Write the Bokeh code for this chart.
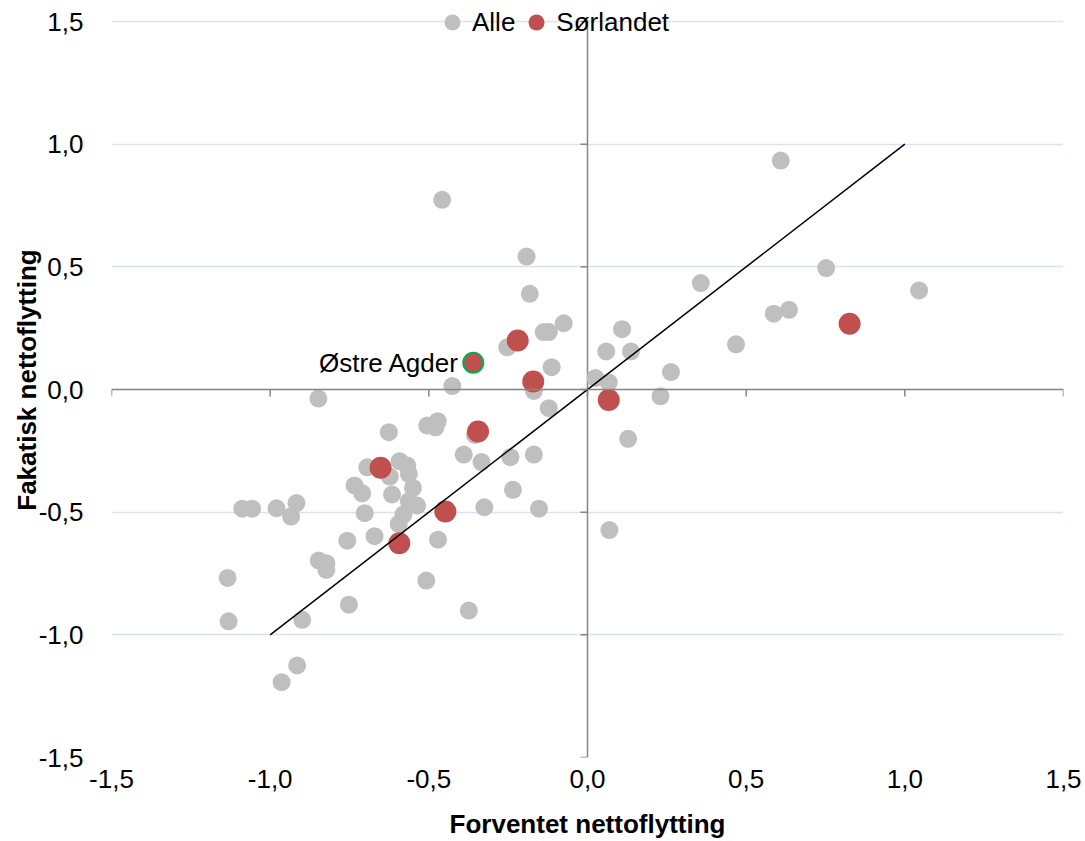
import math
from bokeh.plotting import figure
from bokeh.models import (Range1d, FixedTicker, Span, Legend, LegendItem)
from bokeh.core.properties import value
from bokeh.embed import file_html
from bokeh.resources import INLINE

# ---- data -------------------------------------------------------------
alle_x = [-0.458, -0.192, -0.182, -0.138, -0.122, -0.075, -0.253, -0.113, -0.426, -0.169,
          -0.122, -0.848, -0.626, -0.505, -0.472, -0.479, -0.355, -0.390, -0.334, -0.243,
          -0.169, -0.235, -0.325, -0.153, -0.694, -0.592, -0.568, -0.563, -0.623, -0.734,
          -0.710, -0.616, -0.550, -0.537, -0.563, -0.580, -0.595, -0.702, -0.757, -0.671,
          -0.471, -0.508, -0.374, -1.088, -1.057, -0.980, -0.917, -0.934, -0.847, -0.823,
          -0.823, -1.134, -1.131, -0.899, -0.752, -0.915, -0.964,
          0.609, 0.357, 0.752, 1.045, 0.587, 0.635, 0.468, 0.109, 0.059, 0.137, 0.263,
          0.025, 0.067, 0.230, 0.128, 0.069]
alle_y = [0.773, 0.542, 0.390, 0.234, 0.234, 0.270, 0.172, 0.091, 0.014, -0.006,
          -0.076, -0.037, -0.174, -0.147, -0.129, -0.154, -0.185, -0.265, -0.296, -0.276,
          -0.265, -0.409, -0.480, -0.486, -0.317, -0.292, -0.310, -0.344, -0.355, -0.391,
          -0.423, -0.428, -0.401, -0.473, -0.455, -0.510, -0.548, -0.504, -0.616, -0.598,
          -0.612, -0.779, -0.901, -0.486, -0.486, -0.484, -0.463, -0.518, -0.697, -0.708,
          -0.735, -0.768, -0.945, -0.939, -0.877, -1.125, -1.193,
          0.933, 0.434, 0.495, 0.404, 0.309, 0.325, 0.184, 0.246, 0.155, 0.155, 0.071,
          0.047, 0.029, -0.028, -0.201, -0.573]

sorlandet_x = [0.826, -0.220, -0.171, 0.067, -0.345, -0.652, -0.448, -0.593]
sorlandet_y = [0.268, 0.200, 0.033, -0.043, -0.171, -0.319, -0.497, -0.627]

highlight_name = ["Østre Agder"]
highlight_x = [-0.360]
highlight_y = [0.109]

ref_line_x = [-1.0, 1.0]
ref_line_y = [-1.0, 1.0]

ticks = [-1.5, -1.0, -0.5, 0.0, 0.5, 1.0, 1.5]
tick_labels = ["-1,5", "-1,0", "-0,5", "0,0", "0,5", "1,0", "1,5"]

x_title = "Forventet nettoflytting"
y_title = "Fakatisk nettoflytting"

# ---- styling ----------------------------------------------------------
FONT = "Liberation Sans"
GRAY = "#bfbfbf"
RED = "#c0504d"
GREEN = "#00b050"
AXIS_GRAY = "#868686"
GRID = "#d9e2f1"

# y range is padded a little above 1.5 so that the legend (which sits on the
# top gridline) lies inside the frame; the visible axis still spans -1.5..1.5
Y_TOP_PAD = 19 / 245.33

p = figure(width=1085, height=841,
           x_range=Range1d(-1.5, 1.5), y_range=Range1d(-1.5, 1.5 + Y_TOP_PAD),
           output_backend="svg", toolbar_location=None,
           min_border_left=111, min_border_right=22,
           min_border_top=2, min_border_bottom=84)
p.outline_line_color = None
p.background_fill_color = "white"

for ax in (p.xaxis[0], p.yaxis[0]):
    ax.ticker = FixedTicker(ticks=ticks)
    ax.major_label_overrides = {t: l for t, l in zip(ticks, tick_labels)}
    ax.axis_line_color = None
    ax.major_tick_line_color = None
    ax.minor_tick_line_color = None
    ax.major_label_text_font = FONT
    ax.major_label_text_font_size = "26px"
    ax.major_label_text_color = "black"
    ax.axis_label_text_font = FONT
    ax.axis_label_text_font_size = "26px"
    ax.axis_label_text_font_style = "bold"
    ax.axis_label_text_color = "black"

p.xaxis[0].axis_label = x_title
p.yaxis[0].axis_label = y_title
p.xaxis[0].major_label_standoff = 6
p.xaxis[0].axis_label_standoff = 18
p.yaxis[0].major_label_standoff = 22
p.yaxis[0].axis_label_standoff = -6

p.xgrid.visible = False
p.ygrid.ticker = FixedTicker(ticks=ticks)
p.ygrid.grid_line_color = GRID
p.ygrid.grid_line_width = 1.5

# crossing axes at zero
p.segment(x0=[0], y0=[ticks[0]], x1=[0], y1=[ticks[-1]],
          line_color=AXIS_GRAY, line_width=1.5)
p.add_layout(Span(location=0, dimension="width", line_color=AXIS_GRAY, line_width=1.5))
p.ray(x=ticks, y=[0] * len(ticks), length=7, length_units="screen",
      angle=-math.pi / 2, line_color=AXIS_GRAY, line_width=1.5)
p.ray(x=[0] * len(ticks), y=ticks, length=7, length_units="screen",
      angle=math.pi, line_color=AXIS_GRAY, line_width=1.5)

# points
r_alle = p.scatter(alle_x, alle_y, size=18, fill_color=GRAY, line_color=None)
r_sor = p.scatter(sorlandet_x, sorlandet_y, size=22, fill_color=RED, line_color=None)
p.scatter(highlight_x, highlight_y, size=20, fill_color=RED,
          line_color=GREEN, line_width=2)
p.text(highlight_x, highlight_y, text=highlight_name, x_offset=-14,
       text_align="right", text_baseline="middle",
       text_font=value(FONT), text_font_size="26px", text_color="black")

# reference diagonal
p.line(ref_line_x, ref_line_y, line_color="black", line_width=1.5)

legend = Legend(items=[LegendItem(label="Alle", renderers=[r_alle]),
                       LegendItem(label="Sørlandet", renderers=[r_sor])],
                location=(321, 715), orientation="horizontal",
                glyph_width=40, glyph_height=40, label_height=40,
                label_standoff=-5, spacing=1, padding=0, margin=0,
                border_line_alpha=0, background_fill_alpha=0,
                label_text_font=FONT, label_text_font_size="26px",
                label_text_color="black")
p.add_layout(legend, "center")

open("out.html", "w").write(file_html(p, INLINE))
